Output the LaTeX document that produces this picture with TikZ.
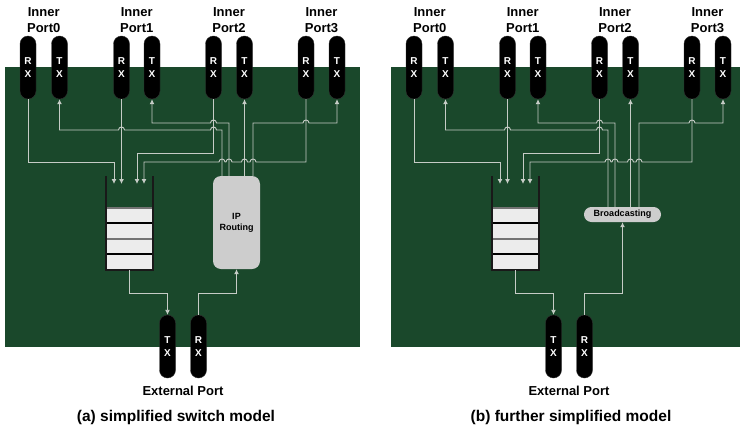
\documentclass[tikz,border=0pt]{standalone}
\usepackage{fontspec}
\setmainfont{Liberation Sans}
\usetikzlibrary{arrows.meta}
\definecolor{board}{RGB}{26,72,43}
\definecolor{wire}{RGB}{198,204,198}
\definecolor{cellc}{RGB}{236,236,236}
\definecolor{boxfill}{RGB}{205,205,205}
\tikzset{
  pill/.style={fill=black, draw=black!80, rounded corners=7.9pt, minimum width=16pt, minimum height=63pt,
    inner sep=0pt, text=white, align=center, font=\bfseries\fontsize{10}{13}\selectfont},
  wireline/.style={draw=wire, line width=0.9pt},
  flow/.style={wireline, -{Latex[length=5pt,width=5pt]}},
  lbl/.style={font=\bfseries\fontsize{13}{16}\selectfont, align=center, inner sep=0pt},
  capt/.style={font=\bfseries\fontsize{15.5}{18}\selectfont, inner sep=0pt},
  qwall/.style={draw=black!90, line width=2pt},
  boxtext/.style={font=\bfseries\fontsize{9}{11}\selectfont, align=center, inner sep=0pt},
}
\newcommand\PanelCommon{%
  % inner ports
  \foreach \n/\x in {0/28,1/121.5,2/213.5,3/306}{\node[pill] (rx\n) at (\x,67.5) {R\\X};}
  \foreach \n/\x in {0/59.5,1/152,2/244.5,3/337}{\node[pill] (tx\n) at (\x,67.5) {T\\X};}
  \foreach \n/\x in {0/43.75,1/136.75,2/229,3/321.5}{\node[lbl] (lab\n) at (\x,20.5) {Inner\\Port\n};}
  % queue
  \node[minimum width=47pt, minimum height=94pt, inner sep=0pt] (q) at (129.5,223) {};
  \fill[cellc] (106,208) rectangle (153,270);
  \draw[black!55, line width=1.2pt] (106,208) -- (153,208) (106,239) -- (153,239);
  \draw[black, line width=1.2pt] (106,223) -- (153,223) (106,254) -- (153,254);
  \draw[qwall] (q.north west) |- (q.south east) -- (q.north east);
  \coordinate (qin1) at (114,184);
  \coordinate (qin2) at (121.5,184);
  \coordinate (qin3) at (137,184);
  \coordinate (qin4) at (144,184);
  % external port
  \node[pill] (etx) at (167.5,346.5) {T\\X};
  \node[pill] (erx) at (198.5,346.5) {R\\X};
  \node[lbl] (extlab) at (183,391) {External Port};
  % wires into the queue
  \draw[flow] (rx0.south) |- (114,162) -- (qin1);
  \draw[flow] (rx1.south) -- (qin2);
  \draw[flow] (rx2.south) |- (137,153) -- (qin3);
  \draw[flow] (rx3.south) -- (306,162) -- (256,162) .. controls (256,158) and (250,158) .. (250,162)
     -- (247.5,162) .. controls (247.5,158) and (241.5,158) .. (241.5,162)
     -- (232,162) .. controls (232,158) and (226,158) .. (226,162)
     -- (225,162) .. controls (225,158) and (219,158) .. (219,162)
     -- (144,162) -- (qin4);
  % wires out of the box
  \draw[flow] ([xshift=-14.5pt]box.north) -- (222,130) -- (216.5,130) .. controls (216.5,126) and (210.5,126) .. (210.5,130)
     -- (124.5,130) .. controls (124.5,126) and (118.5,126) .. (118.5,130) -- (59.5,130) -- (tx0.south);
  \draw[flow] ([xshift=-7.5pt]box.north) -- (229,123) -- (216.5,123) .. controls (216.5,119) and (210.5,119) .. (210.5,123)
     -- (152,123) -- (tx1.south);
  \draw[flow] ([xshift=8pt]box.north) -- (tx2.south);
  \draw[flow] ([xshift=16.5pt]box.north) -- (253,123) -- (303,123) .. controls (303,119) and (309,119) .. (309,123)
     -- (337,123) -- (tx3.south);
  % external wires
  \draw[flow] (q.south) |- (167.5,293) -- (etx.north);
  \draw[flow] (erx.north) |- (236.5,293) -- (box.south);
}
\begin{document}
\begin{tikzpicture}[x=1pt,y=-1pt]
  \useasboundingbox (0,0) rectangle (740,429);
  % panel (a)
  \fill[board] (5,67) rectangle (360,347);
  \node[fill=boxfill, rounded corners=8pt, minimum width=47pt, minimum height=93pt, boxtext] (box) at (236.5,222.5) {IP\\Routing};
  \PanelCommon
  % panel (b)
  \begin{scope}[xshift=386pt, name prefix=b-]
    \fill[board] (5,67) rectangle (354,347);
    \node[fill=boxfill, rounded corners=7.4pt, minimum width=77pt, minimum height=15pt, boxtext] (box) at (236.5,214.5) {Broadcasting};
    \PanelCommon
  \end{scope}
  \node[capt] (capa) at (176,417) {(a) simplified switch model};
  \node[capt] (capb) at (571,417) {(b) further simplified model};
\end{tikzpicture}
\end{document}
